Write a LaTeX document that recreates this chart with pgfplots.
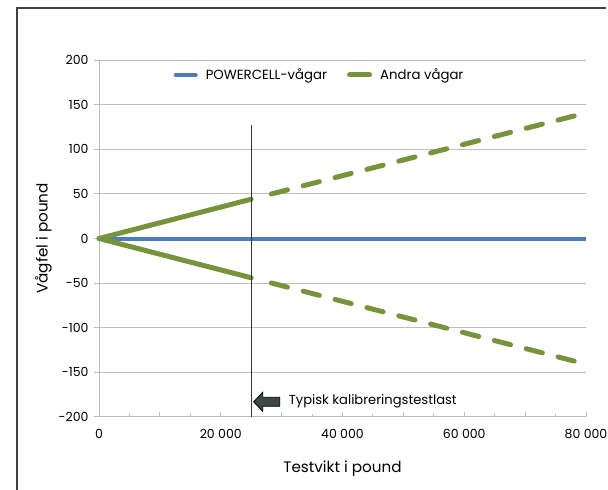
\documentclass[border=0pt]{standalone}
\usepackage{fontspec}
\setmainfont{Poppins}
\usepackage{pgfplots}
\pgfplotsset{compat=1.18}

\definecolor{pcblue}{HTML}{4A7EBB}
\definecolor{andgreen}{HTML}{77933C}
\definecolor{gridgray}{HTML}{BFBFBF}
\definecolor{arrowfill}{HTML}{3A4848}

\begin{document}
\begin{tikzpicture}[x=1pt,y=1pt]
\useasboundingbox (0,0) rectangle (608,490);
% frame of the figure
\draw[line width=1.5pt, black!75] (17,0) -- (17,482) -- (606,482);

\begin{axis}[
    at={(99pt,73pt)}, anchor=south west,
    scale only axis,
    width=487pt, height=357pt,
    xmin=0, xmax=80000,
    ymin=-200, ymax=200,
    axis lines*=left,
    axis line style={gridgray, line width=1pt},
    xtick={0,10000,...,80000},
    xticklabels={0,,20 000,,40 000,,60 000,,80 000},
    minor x tick num=1,
    ytick={-200,-150,...,200},
    ymajorgrids,
    grid style={gridgray, line width=1pt},
    xtick align=inside, ytick align=outside,
    major tick length=5pt, minor tick length=3pt,
    tick style={gridgray, line width=1pt},
    scaled x ticks=false,
    /pgf/number format/assume math mode=true,
    tick label style={font=\fontsize{12.5}{14}\selectfont, black},
    xticklabel style={yshift=-9pt},
    yticklabel style={xshift=-2pt},
    xlabel={Testvikt i pound},
    ylabel={Vågfel i pound},
    label style={font=\fontsize{15.2}{18}\selectfont},
    xlabel style={yshift=-15pt},
    ylabel style={yshift=0pt},
    legend columns=2,
    legend style={draw=none, fill=none, at={(0.453,0.958)}, anchor=center,
        font=\fontsize{13.3}{15}\selectfont,
        /tikz/every even column/.append style={column sep=18pt},
        /tikz/every odd column/.append style={column sep=6pt}},
    legend image code/.code={\draw[#1, line cap=round, dash pattern=] (0pt,0pt) -- (20pt,0pt);},
    clip=false,
]
% POWERCELL
\addplot[pcblue, line width=4pt] coordinates {(0,0) (80000,0)};
\addlegendentry{POWERCELL-vågar}
% Andra vågar, solid up to the typical test load
\addplot[andgreen, line width=5pt, line cap=round] coordinates {(0,0) (25000,44)};
\addlegendentry{Andra vågar}
\addplot[andgreen, line width=5pt, line cap=round, forget plot] coordinates {(0,0) (25000,-44)};
% dashed continuation
\addplot[andgreen, line width=5pt, line cap=round, dash pattern=on 16.7pt off 16.2pt, dash phase=16.7pt, forget plot]
    coordinates {(25730,45.3) (78200,137.6)};
\addplot[andgreen, line width=5pt, line cap=round, dash pattern=on 16.7pt off 16.2pt, dash phase=16.7pt, forget plot]
    coordinates {(25730,-45.3) (78200,-137.6)};
% typical calibration test load
\addplot[black!80, line width=0.9pt, forget plot] coordinates {(25000,-200) (25000,127)};
\draw[black, line width=0.8pt, fill=arrowfill]
    (axis cs:25410,-183) -- ++(9pt,9.5pt) -- ++(0pt,-5pt) -- ++(17pt,0pt) -- ++(0pt,-9pt)
    -- ++(-17pt,0pt) -- ++(0pt,-5pt) -- cycle;
\node[anchor=west, font=\fontsize{13.1}{15}\selectfont, inner sep=0pt]
    at (axis cs:31150,-182) {Typisk kalibreringstestlast};
\end{axis}
\end{tikzpicture}
\end{document}
